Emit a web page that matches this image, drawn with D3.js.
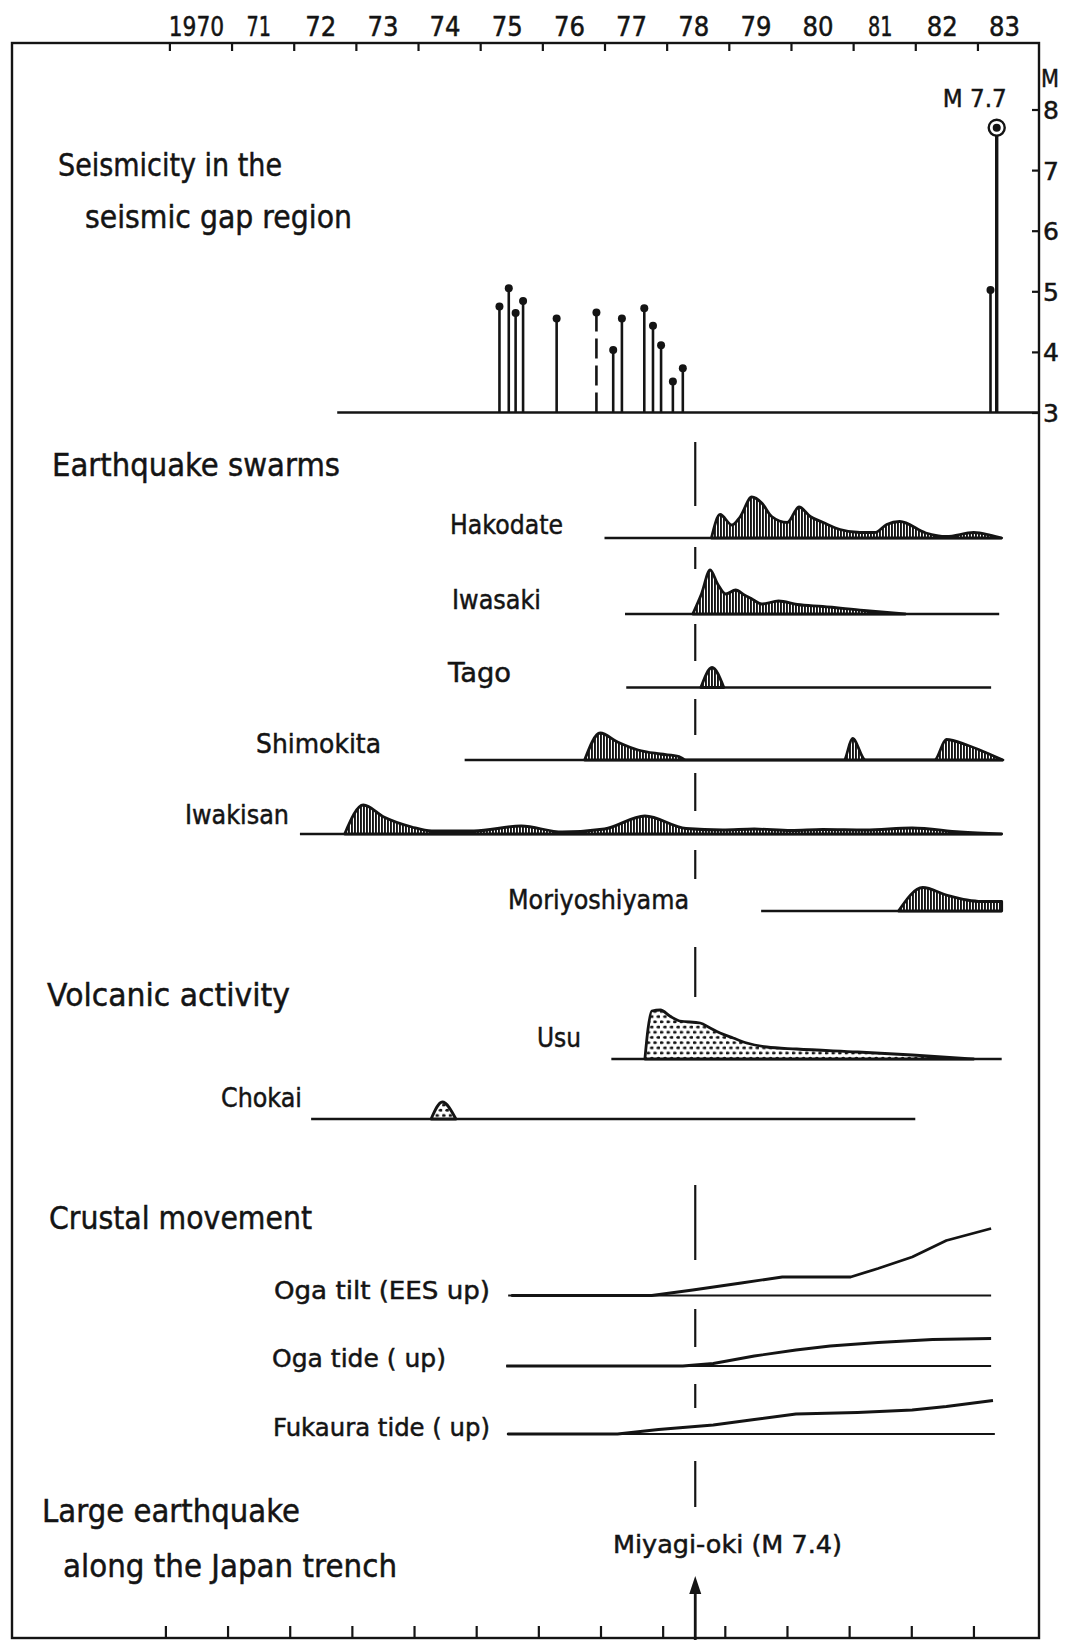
<!DOCTYPE html>
<html>
<head>
<meta charset="utf-8">
<script src="https://cdn.jsdelivr.net/npm/d3@7/dist/d3.min.js"></script>
<style>
  body { margin: 0; background: #fff; }
  svg text { font-family: "DejaVu Sans", sans-serif; fill: #141414; stroke: #141414; stroke-width: 0.5; }
  .axis path.domain { display: none; }
  .axis line { stroke: #141414; stroke-width: 2.2; }
</style>
</head>
<body>
<svg id="chart" width="1070" height="1640"></svg>
<script>
// ---- data ----
const yearTicks = d3.range(1970, 1984);
const yearLabels = ["1970", "71", "72", "73", "74", "75", "76", "77", "78", "79", "80", "81", "82", "83"];
const magTicks = [3, 4, 5, 6, 7, 8];

// seismicity in the gap region: date (decimal year) and magnitude
const quakeYears = [1975.31, 1975.46, 1975.57, 1975.69, 1976.23, 1976.87, 1977.14, 1977.28,
                    1977.64, 1977.78, 1977.91, 1978.10, 1978.26, 1983.21, 1983.31];
const quakeMags  = [4.75, 5.05, 4.64, 4.84, 4.55, 4.65, 4.03, 4.55,
                    4.72, 4.43, 4.11, 3.51, 3.73, 5.02, 7.7];
const quakeKind  = ["s", "s", "s", "s", "s", "d", "s", "s", "s", "s", "s", "s", "s", "s", "main"];
const seisSpan = [1972.7, 1984];

const miyagiYear = 1978.46;

// earthquake swarms: [year, relative activity]
const hakodate = [[1978.72,0],[1978.86,47],[1979.05,26],[1979.18,42],[1979.37,82],[1979.53,70],[1979.69,43],
  [1979.94,31],[1980.13,62],[1980.31,43],[1980.52,31],[1980.79,17],[1981.11,11],[1981.35,11],[1981.54,27],
  [1981.75,33],[1982.17,10],[1982.5,3],[1982.94,11],[1983.2,6],[1983.39,0]];
const iwasaki = [[1978.42,0],[1978.56,40],[1978.7,88],[1978.82,60],[1978.95,40],[1979.11,48],[1979.25,38],
  [1979.36,31],[1979.53,20],[1979.8,26],[1980.1,19],[1980.51,15],[1981.17,7],[1981.84,0]];
const tago = [[1978.55,0],[1978.73,40],[1978.92,0]];
const shimokita = [[1976.68,0],[1976.93,54],[1977.21,36],[1977.54,20],[1977.9,12],[1978.2,7],[1978.31,0],
  [1980.85,0],[1980.99,43],[1981.2,0],[1982.31,0],[1982.5,41],[1982.83,30],[1983.17,13],[1983.41,0]];
const iwakisan = [[1972.82,0],[1973.12,58],[1973.45,34],[1973.9,14],[1974.22,6],[1974.9,6],[1975.66,16],
  [1976.32,4],[1977.0,10],[1977.65,36],[1978.31,11],[1978.9,8],[1979.41,10],[1980.0,7],[1980.51,9],
  [1981.2,8],[1981.95,12],[1982.72,4],[1983.39,0]];
const moriyoshiyama = [[1981.73,0],[1982.12,47],[1982.5,32],[1982.83,22],[1983.06,19],[1983.39,19]];

// volcanic activity
const usu = [[1977.65,0],[1977.7,60],[1977.76,96],[1977.9,98],[1978.05,86],[1978.21,76],[1978.54,72],
  [1978.7,62],[1978.86,52],[1979.07,42],[1979.29,32],[1979.61,24],[1980.09,20],[1981.07,14],[1981.95,8],[1982.94,0]];
const chokai = [[1974.21,0],[1974.39,34],[1974.61,0]];

// crustal movement (relative units)
const ogaTilt = [[1975.5,0],[1977.76,0],[1978.42,11],[1979.2,25],[1979.86,37],[1980.96,37],[1981.4,54],
  [1981.95,77],[1982.5,110],[1983.22,134]];
const ogaTide = [[1975.42,0],[1978.26,0],[1978.75,5],[1979.41,20],[1980.08,32],[1980.63,40],[1981.4,47],
  [1982.28,53],[1983.22,55]];
const fukauraTide = [[1975.44,0],[1977.21,0],[1977.87,9],[1978.75,18],[1979.41,29],[1980.08,40],[1981.07,43],
  [1981.95,48],[1982.5,55],[1983.25,67]];

// observation spans (start, end year) of each record
const spans = {
  Hakodate: [1977.0, 1983.39], Iwasaki: [1977.33, 1983.35], Tago: [1977.35, 1983.22],
  Shimokita: [1974.75, 1983.41], Iwakisan: [1972.1, 1983.39], Moriyoshiyama: [1979.52, 1983.39],
  Usu: [1977.11, 1983.39], Chokai: [1972.28, 1982.0],
  ogaTilt: [1975.45, 1983.22], ogaTide: [1975.42, 1983.22], fukaura: [1975.43, 1983.28]
};

// ---- layout ----
const W = 1070, H = 1640;
const frame = {left: 12, top: 43, right: 1039, bottom: 1638};
const ink = "#141414";
const svg = d3.select("#chart");

const x = d3.scaleLinear().domain([1970, 1984]).range([169.4, 1039.6]);
const yM = d3.scaleLinear().domain([3, 8]).range([412.5, 109.5]);
const h = d3.scaleLinear().domain([0, 100]).range([0, 50]);

// patterns: vertical hatching for swarms, stipple for volcanoes
const defs = svg.append("defs");
const hatch = defs.append("pattern").attr("id", "hatch")
    .attr("patternUnits", "userSpaceOnUse").attr("width", 3).attr("height", 10);
hatch.append("rect").attr("width", 3).attr("height", 10).attr("fill", "#fff");
hatch.append("rect").attr("x", 0).attr("width", 1.9).attr("height", 10).attr("fill", ink);

const dots = defs.append("pattern").attr("id", "dots")
    .attr("patternUnits", "userSpaceOnUse").attr("width", 6.6).attr("height", 10.4);
dots.append("rect").attr("width", 6.6).attr("height", 10.4).attr("fill", "#fff");
dots.append("ellipse").attr("cx", 1.65).attr("cy", 2.6).attr("rx", 1.9).attr("ry", 1.5).attr("fill", ink);
dots.append("ellipse").attr("cx", 4.95).attr("cy", 7.8).attr("rx", 1.9).attr("ry", 1.5).attr("fill", ink);

// frame
svg.append("rect")
    .attr("x", frame.left).attr("y", frame.top)
    .attr("width", frame.right - frame.left).attr("height", frame.bottom - frame.top)
    .attr("fill", "none").attr("stroke", ink).attr("stroke-width", 2.4);

// top and bottom year ticks
svg.append("g").attr("class", "axis")
    .attr("transform", `translate(0,${frame.top})`)
    .call(d3.axisBottom(x).tickValues(yearTicks).tickSize(8).tickSizeOuter(0).tickFormat(""));
svg.append("g").attr("class", "axis")
    .attr("transform", `translate(-4,${frame.bottom})`)
    .call(d3.axisTop(x).tickValues(yearTicks).tickSize(12).tickSizeOuter(0).tickFormat(""));

// year labels centred in each year interval ("1" is drawn narrow)
const labelWidth = s => d3.sum(s.split(""), c => c === "1" ? 9 : 15.5);
svg.append("g").selectAll("text")
    .data(yearTicks)
    .join("text")
    .attr("x", d => x(d + 0.5) - 4)
    .attr("y", 36)
    .attr("text-anchor", "middle")
    .attr("font-size", 27)
    .attr("textLength", (d, i) => labelWidth(yearLabels[i]))
    .attr("lengthAdjust", "spacingAndGlyphs")
    .text((d, i) => yearLabels[i]);

// magnitude axis on the right
const mAxis = svg.append("g").attr("class", "axis")
    .attr("transform", `translate(${frame.right},0)`)
    .call(d3.axisRight(yM).tickValues(magTicks).tickSize(-7).tickPadding(4).tickFormat(d3.format("d")));
mAxis.selectAll("text").attr("font-size", 25).attr("fill", ink)
    .attr("dy", "0.36em").style("font-family", "DejaVu Sans");
svg.append("text").attr("x", frame.right + 2).attr("y", 87)
    .attr("font-size", 25).attr("textLength", 18).attr("lengthAdjust", "spacingAndGlyphs").text("M");

// ---- seismicity stems ----
svg.append("line")
    .attr("x1", x(seisSpan[0])).attr("x2", x(seisSpan[1]))
    .attr("y1", yM(3)).attr("y2", yM(3))
    .attr("stroke", ink).attr("stroke-width", 2.6);

const quakes = quakeYears.map((yr, i) => ({year: yr, mag: quakeMags[i], kind: quakeKind[i]}));
const gq = svg.append("g");
gq.selectAll("line")
    .data(quakes)
    .join("line")
    .attr("x1", d => x(d.year)).attr("x2", d => x(d.year))
    .attr("y1", yM(3))
    .attr("y2", d => d.kind === "main" ? yM(d.mag) + 8 : yM(d.mag))
    .attr("stroke", ink)
    .attr("stroke-width", d => d.kind === "main" ? 3.4 : 2.6)
    .attr("stroke-dasharray", d => d.kind === "d" ? "20,7" : null);
gq.selectAll("circle.tip")
    .data(quakes)
    .join("circle").attr("class", "tip")
    .attr("cx", d => x(d.year)).attr("cy", d => yM(d.mag))
    .attr("r", 4).attr("fill", ink);
const mainQ = quakes.find(d => d.kind === "main");
gq.append("circle")
    .attr("cx", x(mainQ.year)).attr("cy", yM(mainQ.mag))
    .attr("r", 8).attr("fill", "none").attr("stroke", ink).attr("stroke-width", 2.4);
svg.append("text")
    .attr("x", x(mainQ.year) + 10).attr("y", yM(mainQ.mag) - 21)
    .attr("text-anchor", "end").attr("font-size", 25)
    .attr("textLength", 64).attr("lengthAdjust", "spacingAndGlyphs")
    .text(`M ${d3.format(".1f")(mainQ.mag)}`);

// ---- profiles ----
const rows = [
  {key: "Hakodate", data: hakodate, fill: "url(#hatch)", base: 538},
  {key: "Iwasaki", data: iwasaki, fill: "url(#hatch)", base: 614},
  {key: "Tago", data: tago, fill: "url(#hatch)", base: 687.5},
  {key: "Shimokita", data: shimokita, fill: "url(#hatch)", base: 760},
  {key: "Iwakisan", data: iwakisan, fill: "url(#hatch)", base: 834},
  {key: "Moriyoshiyama", data: moriyoshiyama, fill: "url(#hatch)", base: 911},
  {key: "Usu", data: usu, fill: "url(#dots)", base: 1059},
  {key: "Chokai", data: chokai, fill: "url(#dots)", base: 1119}
];

const gp = svg.append("g");
rows.forEach(r => {
  const span = spans[r.key];
  gp.append("line")
      .attr("x1", x(span[0])).attr("x2", x(span[1]))
      .attr("y1", r.base).attr("y2", r.base)
      .attr("stroke", ink).attr("stroke-width", 2.4);
  const area = d3.area()
      .x(d => x(d[0]))
      .y0(r.base)
      .y1(d => r.base - h(d[1]))
      .curve(d3.curveMonotoneX);
  gp.append("path")
      .attr("d", area(r.data))
      .attr("fill", r.fill)
      .attr("stroke", ink).attr("stroke-width", 2.8)
      .attr("stroke-linejoin", "round");
});

// crustal movement lines
const crust = [
  {key: "ogaTilt", data: ogaTilt, base: 1295.5},
  {key: "ogaTide", data: ogaTide, base: 1366},
  {key: "fukaura", data: fukauraTide, base: 1434}
];
crust.forEach(r => {
  const span = spans[r.key];
  gp.append("line")
      .attr("x1", x(span[0])).attr("x2", x(span[1]))
      .attr("y1", r.base).attr("y2", r.base)
      .attr("stroke", ink).attr("stroke-width", 2.2);
  const line = d3.line()
      .x(d => x(d[0]))
      .y(d => r.base - h(d[1]));
  gp.append("path")
      .attr("d", line(r.data))
      .attr("fill", "none")
      .attr("stroke", ink).attr("stroke-width", 2.8)
      .attr("stroke-linejoin", "round");
});

// ---- Miyagi-oki marker: broken vertical line and arrow ----
const dashSegs = [[442, 506], [547, 569], [624, 661], [699, 735], [773, 811], [850, 879],
                  [947, 997], [1185, 1260], [1309, 1347], [1384, 1408], [1461, 1507]];
const mx = x(miyagiYear);
svg.append("g").selectAll("line")
    .data(dashSegs)
    .join("line")
    .attr("x1", mx).attr("x2", mx)
    .attr("y1", d => d[0]).attr("y2", d => d[1])
    .attr("stroke", ink).attr("stroke-width", 2.2);
svg.append("line")
    .attr("x1", mx).attr("x2", mx).attr("y1", 1590).attr("y2", H)
    .attr("stroke", ink).attr("stroke-width", 2.8);
svg.append("path")
    .attr("d", `M${mx},1576 L${mx - 6},1594 L${mx + 6},1594 Z`)
    .attr("fill", ink);

// ---- text labels ----
const labels = [
  {t: "Seismicity in the", x: 58, y: 176, w: 224, s: 32},
  {t: "seismic gap region", x: 85, y: 228, w: 267, s: 32},
  {t: "Earthquake swarms", x: 52, y: 476, w: 288, s: 32},
  {t: "Hakodate", x: 450, y: 534, w: 113, s: 27},
  {t: "Iwasaki", x: 452, y: 609, w: 89, s: 27},
  {t: "Tago", x: 448, y: 682, w: 63, s: 27},
  {t: "Shimokita", x: 256, y: 753, w: 125, s: 27},
  {t: "Iwakisan", x: 185, y: 824, w: 104, s: 27},
  {t: "Moriyoshiyama", x: 508, y: 909, w: 181, s: 27},
  {t: "Volcanic activity", x: 47, y: 1006, w: 243, s: 32},
  {t: "Usu", x: 537, y: 1047, w: 44, s: 27},
  {t: "Chokai", x: 221, y: 1107, w: 81, s: 27},
  {t: "Crustal movement", x: 49, y: 1229, w: 263, s: 32},
  {t: "Oga tilt (EES up)", x: 274, y: 1299, w: 216, s: 25},
  {t: "Oga tide ( up)", x: 272, y: 1367, w: 174, s: 25},
  {t: "Fukaura tide ( up)", x: 273, y: 1436, w: 217, s: 25},
  {t: "Large earthquake", x: 42, y: 1522, w: 258, s: 32},
  {t: "along the Japan trench", x: 63, y: 1577, w: 334, s: 32},
  {t: "Miyagi-oki (M 7.4)", x: 613, y: 1553, w: 229, s: 25}
];
svg.append("g").selectAll("text")
    .data(labels)
    .join("text")
    .attr("x", d => d.x).attr("y", d => d.y)
    .attr("font-size", d => d.s)
    .attr("textLength", d => d.w)
    .attr("lengthAdjust", "spacingAndGlyphs")
    .text(d => d.t);
</script>
</body>
</html>
